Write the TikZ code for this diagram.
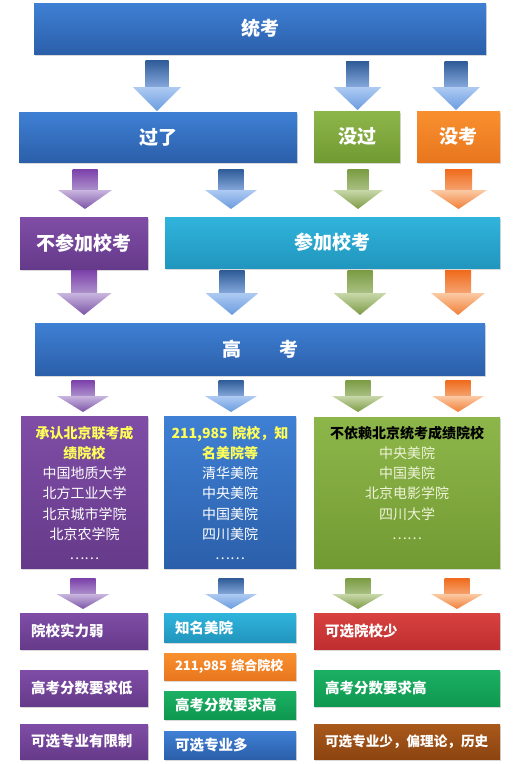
\documentclass[tikz,border=0pt]{standalone}
\usepackage{fontspec}
\setmainfont{Noto Sans CJK SC}
\usetikzlibrary{shadows}
\definecolor{bluetop}{HTML}{3F80D4}
\definecolor{bluebot}{HTML}{2B5FAA}
\definecolor{greentop}{HTML}{8DB64A}
\definecolor{greenbot}{HTML}{729A33}
\definecolor{orangetop}{HTML}{F8902F}
\definecolor{orangebot}{HTML}{E9761D}
\definecolor{purptop}{HTML}{7F4DA6}
\definecolor{purpbot}{HTML}{663A8A}
\definecolor{cyantop}{HTML}{30B4DC}
\definecolor{cyanbot}{HTML}{2196BE}
\definecolor{emtop}{HTML}{1BB064}
\definecolor{embot}{HTML}{0E9850}
\definecolor{redtop}{HTML}{D8423F}
\definecolor{redbot}{HTML}{BF2E30}
\definecolor{browntop}{HTML}{A9591B}
\definecolor{brownbot}{HTML}{8C4410}
\definecolor{ylw}{HTML}{FFFF5A}
\definecolor{pale}{HTML}{EFF4D8}
% arrow colours: stem top, stem bottom, head top, head bottom
\definecolor{ab1}{HTML}{2E5A96}\definecolor{ab2}{HTML}{86A9DC}
\definecolor{ab3}{HTML}{AECAF2}\definecolor{ab4}{HTML}{6A9CDF}
\definecolor{ap1}{HTML}{7B3FAA}\definecolor{ap2}{HTML}{AE93CC}
\definecolor{ap3}{HTML}{C9B6DF}\definecolor{ap4}{HTML}{7B53A6}
\definecolor{ag1}{HTML}{7A9B42}\definecolor{ag2}{HTML}{AAC184}
\definecolor{ag3}{HTML}{C8D8AA}\definecolor{ag4}{HTML}{7D9B45}
\definecolor{ao1}{HTML}{EF6A1A}\definecolor{ao2}{HTML}{F5A472}
\definecolor{ao3}{HTML}{FBCAA4}\definecolor{ao4}{HTML}{F07F38}
% #1 colour prefix, #2 x, #3 y top, #4 y head, #5 y tip, #6 stem half width, #7 head half width
\newcommand\blkarrow[7]{%
  \path[top color=#11, bottom color=#12] (#2-#6,#3) rectangle (#2+#6,#4+0.5);
  \path[top color=#13, bottom color=#14] (#2-#7,#4) -- (#2+#7,#4) -- (#2,#5) -- cycle;}
\newcommand\ttlfont{\fontsize{19}{22}\selectfont\bfseries}
\newcommand\lstfont{\fontsize{14}{20.3}\selectfont}
\newcommand\botfont{\fontsize{14.5}{17}\selectfont\bfseries}
\begin{document}
\begin{tikzpicture}[x=1pt,y=-1pt,
  box/.style={inner sep=0pt, text=white, drop shadow={shadow xshift=1.2pt, shadow yshift=-1.8pt, opacity=0.3}},
  bluebox/.style={box, top color=bluetop, bottom color=bluebot},
  greenbox/.style={box, top color=greentop, bottom color=greenbot},
  orangebox/.style={box, top color=orangetop, bottom color=orangebot},
  purpbox/.style={box, top color=purptop, bottom color=purpbot},
  cyanbox/.style={box, top color=cyantop, bottom color=cyanbot},
  embox/.style={box, top color=emtop, bottom color=embot},
  redbox/.style={box, top color=redtop, bottom color=redbot},
  brownbox/.style={box, top color=browntop, bottom color=brownbot},
  ttl/.style={font=\ttlfont},
  lbox/.style={font=\botfont, align=left, text width=#1, inner xsep=11pt},
  lsttext/.style={font=\lstfont, text width=#1, align=center, anchor=base, inner sep=0pt, text=white},
]
\useasboundingbox (0,0) rectangle (521,764);

% row 1
\node[bluebox, ttl, minimum width=452pt, minimum height=51pt] (tk) at (260,28.5) {统考};
% row 2
\node[bluebox, ttl, minimum width=278pt, minimum height=50pt] (guo) at (158,137) {过了};
\node[greenbox, ttl, minimum width=86pt, minimum height=51pt] (meiguo) at (357,136.5) {没过};
\node[orangebox, ttl, minimum width=83pt, minimum height=51pt] (meikao) at (458.5,136.5) {没考};
% row 3
\node[purpbox, ttl, minimum width=128pt, minimum height=52pt] (bucan) at (84,243) {不参加校考};
\node[cyanbox, ttl, minimum width=335pt, minimum height=51pt] (canjia) at (332.5,242.5) {参加校考};
% row 4
\node[bluebox, ttl, minimum width=450pt, minimum height=52pt] (gk) at (260,349) {高\hspace{38pt}考};
% row 5
\node[purpbox, minimum width=127pt, minimum height=152pt] (p4) at (84.5,492) {};
\node[bluebox, minimum width=132pt, minimum height=152pt] (b4) at (230,492) {};
\node[greenbox, minimum width=186pt, minimum height=151pt] (g4) at (407,492.5) {};
\node[lsttext=127pt] (p4t) at (84.5,438) {{\color{ylw}\bfseries 承认北京联考成}\\{\color{ylw}\bfseries 绩院校}\\中国地质大学\\北方工业大学\\北京城市学院\\北京农学院\\……};
\node[lsttext=132pt] (b4t) at (230,438) {{\color{ylw}\bfseries 211,985 院校，知}\\{\color{ylw}\bfseries 名美院等}\\清华美院\\中央美院\\中国美院\\四川美院\\……};
\node[lsttext=186pt, text=pale] (g4t) at (407,438) {{\color{black}\bfseries 不依赖北京统考成绩院校}\\中央美院\\中国美院\\北京电影学院\\四川大学\\……};
% bottom rows
\node[purpbox, lbox=106pt, minimum height=36pt] (l1) at (84,631) {院校实力弱};
\node[purpbox, lbox=106pt, minimum height=36pt] (l2) at (84,688) {高考分数要求低};
\node[purpbox, lbox=106pt, minimum height=35pt] (l3) at (84,741.5) {可选专业有限制};
\node[cyanbox, lbox=110pt, minimum height=29pt] (m1) at (230,627.5) {知名美院};
\node[orangebox, lbox=110pt, minimum height=27pt, font=\fontsize{13}{15}\selectfont\bfseries] (m2) at (230,666.5) {211,985 综合院校};
\node[embox, lbox=110pt, minimum height=28pt] (m3) at (230,705) {高考分数要求高};
\node[bluebox, lbox=110pt, minimum height=28pt] (m4) at (230,745) {可选专业多};
\node[redbox, lbox=164pt, minimum height=36pt] (r1) at (407,631) {可选院校少};
\node[embox, lbox=164pt, minimum height=36pt] (r2) at (407,688) {高考分数要求高};
\node[brownbox, lbox=164pt, minimum height=35pt, font=\fontsize{13.6}{16}\selectfont\bfseries] (r3) at (407,741.5) {可选专业少，偏理论，历史};

% arrows row 1
\blkarrow{ab}{157}{60}{87}{111}{11.5}{24}
\blkarrow{ab}{357.5}{61}{87}{110}{11.5}{24}
\blkarrow{ab}{456}{61}{87}{110}{11.5}{24}
% arrows row 2
\blkarrow{ap}{85}{169}{190}{209}{12.5}{27}
\blkarrow{ab}{231}{169}{190}{209}{12.5}{26}
\blkarrow{ag}{358}{169}{190}{209}{10.5}{25}
\blkarrow{ao}{458.5}{169}{190}{209}{13.5}{28.5}
% arrows row 3
\blkarrow{ap}{84}{270}{293}{315}{13}{27.5}
\blkarrow{ab}{232}{270}{293}{315}{12.5}{26.5}
\blkarrow{ag}{360}{270}{293}{315}{12.5}{26.5}
\blkarrow{ao}{458}{270}{293}{315}{13}{27}
% arrows row 4
\blkarrow{ap}{83}{380}{396}{412}{11.5}{26}
\blkarrow{ab}{231}{380}{396}{412}{12.5}{26}
\blkarrow{ag}{358}{380}{396}{412}{12.5}{26}
\blkarrow{ao}{458}{380}{396}{412}{12.5}{26}
% arrows row 5
\blkarrow{ap}{83}{578}{594}{609}{12.5}{26.5}
\blkarrow{ab}{231}{578}{594}{609}{12.5}{26}
\blkarrow{ag}{358}{578}{594}{609}{12.5}{26}
\blkarrow{ao}{457}{578}{594}{609}{12.5}{26}
\end{tikzpicture}
\end{document}
